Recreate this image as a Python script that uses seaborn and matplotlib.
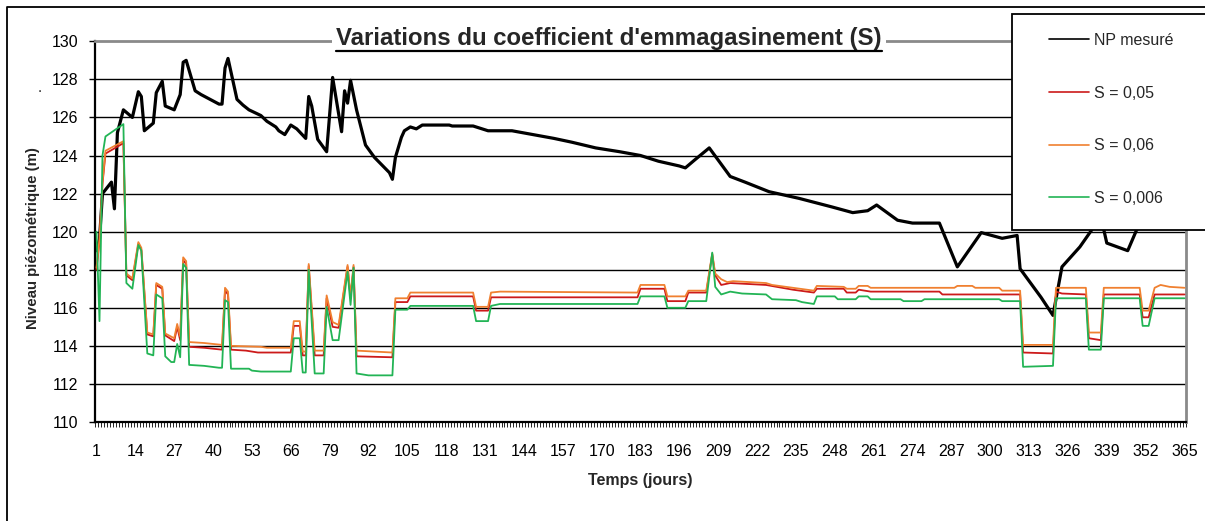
import matplotlib
matplotlib.use("Agg")
import matplotlib.pyplot as plt
from matplotlib.lines import Line2D
from matplotlib.patches import Rectangle
import seaborn as sns

sns.set_theme(style="white")
plt.rcParams["font.family"] = ["Liberation Sans", "DejaVu Sans"]

# ---- data: (day, level in m) vertices of each series ----
np_days = [1, 2, 3, 5, 6, 7, 8, 10, 13, 15, 16, 17, 20, 21, 23, 24, 27, 29, 30, 31,
           34, 36, 42, 43, 44, 45, 48, 50, 52, 56, 58, 61, 62, 64, 66, 68, 71, 72, 73, 75,
           78, 80, 83, 84, 85, 86, 88, 91, 94, 99, 100, 101, 103, 104, 106, 108, 110, 119, 120, 127,
           132, 140, 147, 154, 160, 168, 176, 183, 189, 196, 198, 201, 206, 213, 218, 226, 236, 247, 254, 259,
           262, 269, 274, 283, 289, 297, 304, 309, 310, 317, 321, 324, 330, 334, 336, 338, 339, 346, 349, 352,
           365]
np_level = [119.0, 119.6, 122.0, 122.4, 122.6, 121.2, 125.2, 126.4, 126.0, 127.35, 127.1, 125.3, 125.7, 127.3, 127.9, 126.6, 126.4, 127.2, 128.9, 129.0,
            127.4, 127.2, 126.7, 126.7, 128.6, 129.1, 126.95, 126.65, 126.4, 126.1, 125.8, 125.5, 125.3, 125.1, 125.6, 125.4, 124.9, 127.1, 126.6, 124.85,
            124.2, 128.1, 125.25, 127.4, 126.75, 127.95, 126.4, 124.55, 123.9, 123.1, 122.75, 123.9, 124.95, 125.3, 125.5, 125.4, 125.6, 125.6, 125.55, 125.55,
            125.3, 125.3, 125.1, 124.9, 124.7, 124.4, 124.2, 124.0, 123.7, 123.45, 123.35, 123.75, 124.4, 122.9, 122.6, 122.1, 121.75, 121.3, 121.0, 121.1,
            121.4, 120.6, 120.45, 120.45, 118.15, 119.95, 119.65, 119.8, 118.05, 116.55, 115.6, 118.15, 119.2, 120.1, 120.6, 120.1, 119.4, 119.0, 120.1, 120.5,
            120.8]

s005_days = [1, 2, 3, 4, 10, 11, 13, 15, 16, 18, 20, 21, 23, 24, 27, 28, 29, 30, 31, 32,
             37, 40, 43, 44, 45, 46, 51, 53, 55, 66, 67, 69, 70, 71, 72, 74, 77, 78, 80, 82,
             85, 86, 87, 88, 100, 101, 105, 106, 127, 128, 132, 133, 182, 183, 191, 192, 198, 199, 205, 207,
             208, 210, 213, 225, 234, 241, 242, 251, 252, 255, 256, 260, 283, 284, 310, 311, 321, 322, 324, 332,
             333, 337, 338, 350, 351, 353, 355, 365]
s005_level = [118.0, 119.5, 122.5, 124.1, 124.65, 117.7, 117.45, 119.35, 119.05, 114.6, 114.5, 117.2, 117.0, 114.55, 114.25, 115.0, 114.3, 118.5, 118.3, 113.95,
              113.9, 113.85, 113.8, 116.9, 116.7, 113.8, 113.75, 113.7, 113.65, 113.65, 115.05, 115.05, 113.5, 113.5, 118.2, 113.5, 113.5, 116.5, 115.0, 114.95,
              118.15, 116.5, 118.15, 113.45, 113.4, 116.3, 116.3, 116.6, 116.6, 115.85, 115.85, 116.55, 116.55, 117.0, 117.0, 116.35, 116.35, 116.8, 116.8, 118.8,
              117.7, 117.2, 117.3, 117.2, 116.95, 116.8, 117.0, 117.0, 116.8, 116.8, 116.95, 116.85, 116.85, 116.7, 116.7, 113.65, 113.6, 116.85, 116.75, 116.7,
              114.4, 114.3, 116.7, 116.7, 115.5, 115.5, 116.7, 116.7]

s006_days = [1, 2, 3, 4, 10, 11, 13, 15, 16, 18, 20, 21, 23, 24, 27, 28, 29, 30, 31, 32,
             37, 40, 43, 44, 45, 46, 56, 58, 66, 67, 69, 70, 71, 72, 74, 77, 78, 80, 82, 85,
             86, 87, 88, 100, 101, 105, 106, 127, 128, 132, 133, 136, 182, 183, 191, 192, 198, 199, 205, 207,
             208, 210, 212, 214, 225, 227, 234, 241, 242, 251, 252, 255, 256, 259, 260, 288, 289, 294, 295, 303,
             304, 310, 311, 321, 322, 332, 333, 337, 338, 350, 351, 353, 355, 357, 360, 365]
s006_level = [118.1, 119.6, 122.6, 124.25, 124.75, 117.8, 117.55, 119.45, 119.15, 114.7, 114.6, 117.3, 117.1, 114.65, 114.4, 115.15, 114.5, 118.65, 118.45, 114.2,
              114.15, 114.1, 114.05, 117.05, 116.85, 114.0, 113.95, 113.9, 113.9, 115.3, 115.3, 113.7, 113.7, 118.3, 113.75, 113.75, 116.65, 115.25, 115.1, 118.25,
              116.6, 118.25, 113.75, 113.65, 116.5, 116.5, 116.8, 116.8, 116.05, 116.05, 116.8, 116.85, 116.8, 117.2, 117.2, 116.6, 116.6, 116.9, 116.9, 118.85,
              117.8, 117.5, 117.35, 117.4, 117.3, 117.2, 117.05, 116.9, 117.15, 117.1, 117.0, 117.0, 117.15, 117.15, 117.05, 117.05, 117.15, 117.15, 117.05, 117.05,
              116.9, 116.9, 114.05, 114.05, 117.05, 117.05, 114.7, 114.7, 117.05, 117.05, 115.85, 115.85, 117.05, 117.2, 117.1, 117.05]

s0006_days = [1, 2, 3, 4, 10, 11, 13, 15, 16, 18, 20, 21, 23, 24, 26, 27, 28, 29, 30, 31,
              32, 37, 42, 43, 44, 45, 46, 52, 53, 56, 66, 67, 69, 70, 71, 72, 74, 77, 78, 80,
              82, 85, 86, 87, 88, 92, 100, 101, 105, 106, 127, 128, 132, 133, 136, 182, 183, 191, 192, 198,
              199, 205, 207, 208, 210, 213, 217, 225, 227, 235, 237, 241, 242, 248, 249, 255, 256, 259, 260, 270,
              271, 277, 278, 303, 304, 310, 311, 321, 322, 332, 333, 337, 338, 350, 351, 353, 355, 365]
s0006_level = [120.0, 115.3, 124.0, 125.0, 125.65, 117.3, 117.0, 119.3, 119.0, 113.6, 113.5, 116.7, 116.5, 113.45, 113.15, 113.15, 114.1, 113.4, 118.3, 118.1,
               113.0, 112.95, 112.85, 112.85, 116.4, 116.3, 112.8, 112.8, 112.7, 112.65, 112.65, 114.4, 114.4, 112.6, 112.6, 118.0, 112.55, 112.55, 116.05, 114.3,
               114.3, 117.9, 116.15, 118.1, 112.55, 112.45, 112.45, 115.9, 115.9, 116.1, 116.1, 115.3, 115.3, 116.1, 116.2, 116.2, 116.6, 116.6, 116.0, 116.0,
               116.35, 116.35, 118.9, 117.1, 116.7, 116.85, 116.75, 116.7, 116.45, 116.4, 116.3, 116.2, 116.6, 116.6, 116.45, 116.45, 116.6, 116.6, 116.45, 116.45,
               116.35, 116.35, 116.45, 116.45, 116.35, 116.35, 112.9, 112.95, 116.5, 116.5, 113.8, 113.8, 116.5, 116.5, 115.05, 115.05, 116.5, 116.5]

series_labels = ["NP mesuré", "S = 0,05", "S = 0,06", "S = 0,006"]
series_colors = ["#000000", "#CC1A1A", "#F08030", "#22B455"]
series_widths = [2.3, 1.3, 1.3, 1.3]

x_ticks = list(range(1, 366, 13))
y_ticks = list(range(110, 131, 2))

title = "Variations du coefficient d'emmagasinement (S)"
x_label = "Temps (jours)"
y_label = "Niveau piézométrique (m)"

# ---- figure ----
W, H = 1205, 521
fig = plt.figure(figsize=(W / 100, H / 100), dpi=100)
fig.patch.set_facecolor("white")


def fx(px):
    return px / W


def fy(py):
    return 1 - py / H


ax_left, ax_right, ax_top, ax_bottom = 95, 1186, 41.3, 422
ax = fig.add_axes([fx(ax_left), fy(ax_bottom), fx(ax_right - ax_left), (ax_bottom - ax_top) / H])
ax.set_facecolor("white")

series = [(np_days, np_level), (s005_days, s005_level), (s006_days, s006_level), (s0006_days, s0006_level)]
for (d, v), lab, col, lw in zip(series, series_labels, series_colors, series_widths):
    sns.lineplot(x=d, y=v, ax=ax, color=col, linewidth=lw, label=lab, legend=False,
                 estimator=None, sort=False, zorder=3)

ax.set_xlim(0.5, 365.5)
ax.set_ylim(110, 130)
ax.set_yticks(y_ticks)
ax.set_yticklabels([str(t) for t in y_ticks])
ax.set_xticks(x_ticks)
ax.set_xticklabels([str(t) for t in x_ticks])
ax.set_xticks([k + 0.5 for k in range(0, 366)], minor=True)
ax.tick_params(axis="x", which="major", length=0, pad=16, labelsize=11.5, colors="black")
ax.tick_params(axis="x", which="minor", length=3.5, width=0.6, color="black", bottom=True)
ax.tick_params(axis="y", which="major", length=4, width=1.0, color="black", left=True,
               pad=8, labelsize=11.5, labelcolor="black")
ax.set_xlabel("")
ax.set_ylabel("")

for gv in y_ticks[1:-1]:
    ax.axhline(gv, color="black", linewidth=1.0, zorder=1)

for side in ["left", "bottom"]:
    ax.spines[side].set_color("black")
    ax.spines[side].set_linewidth(1.6)
for side in ["top", "right"]:
    ax.spines[side].set_color("#8a8a8a")
    ax.spines[side].set_linewidth(2.0)
for s in ax.spines.values():
    s.set_visible(True)

# axis labels and title
fig.text(fx(640.5), fy(481), x_label, ha="center", va="center", fontsize=11.5, fontweight="bold")
fig.text(fx(33), fy(238), y_label, ha="center", va="center", rotation=90, fontsize=10.8, fontweight="bold")
fig.text(fx(40), fy(88), ".", ha="center", va="center", fontsize=11)
ttl = fig.text(fx(609), fy(38), title, ha="center", va="center", fontsize=17.3, fontweight="bold",
               bbox=dict(facecolor="white", edgecolor="none", pad=3), zorder=5)

# legend box and entries
fig.patches.append(Rectangle((fx(1012), fy(230)), fx(260), (230 - 14) / H, transform=fig.transFigure,
                             facecolor="white", edgecolor="black", linewidth=1.3, zorder=4))
handles = [Line2D([], [], color=c, linewidth=1.2) for c in series_colors]
leg = fig.legend(handles, series_labels, loc="upper left", bbox_to_anchor=(fx(1049), fy(33)),
                 frameon=False, fontsize=11.5, borderpad=0, borderaxespad=0, handlelength=2.5,
                 handletextpad=0.3, labelspacing=2.36)
leg.set_zorder(6)

# page frame
fig.add_artist(Line2D([fx(7), fx(7), fx(1215)], [fy(530), fy(7), fy(7)], transform=fig.transFigure,
                      color="black", linewidth=1.3))

# underline the title
fig.canvas.draw()
bb = ttl.get_window_extent(renderer=fig.canvas.get_renderer())
fig.add_artist(Line2D([bb.x0 / W, bb.x1 / W], [(bb.y0 - 1) / H, (bb.y0 - 1) / H], transform=fig.transFigure,
                      color="black", linewidth=1.6, zorder=6))

fig.savefig("out.png", dpi=100, facecolor="white")
